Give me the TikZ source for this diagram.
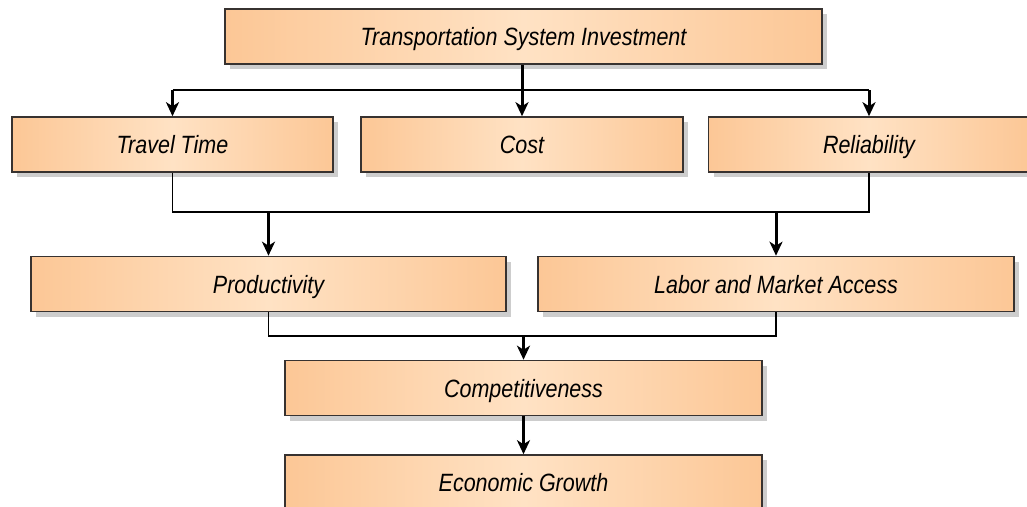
\documentclass[tikz,border=0pt]{standalone}
\usepackage{fontspec}
\newfontfamily\boxfont{Liberation Sans}[FakeStretch=0.86]
\usepackage{tikz}
\usetikzlibrary{arrows.meta,shadows}
\definecolor{boxedge}{RGB}{252,199,150}
\definecolor{boxmid}{RGB}{255,226,196}
\definecolor{boxline}{RGB}{55,50,48}
\definecolor{shadowgray}{RGB}{205,205,205}
\tikzset{
  factor/.style={draw=boxline, line width=1.6pt, left color=boxedge, right color=boxedge, middle color=boxmid,
    minimum height=55pt, inner sep=0pt, text height=18pt, text depth=0pt,
    font=\boxfont\itshape\fontsize{25}{28}\selectfont,
    drop shadow={shadow xshift=5pt, shadow yshift=-5pt, fill=shadowgray, opacity=1}},
  link/.style={black, line width=1.8pt},
  linkarrow/.style={black, line width=3pt, -{Stealth[length=14pt, width=13pt, inset=4pt]}}
}
\begin{document}
\begin{tikzpicture}[x=1pt,y=-1pt]
\useasboundingbox (0,0) rectangle (1027,506);
\node[factor, minimum width=597pt] (invest) at (523.5,36.5) {Transportation System Investment};
\node[factor, minimum width=321pt] (travel) at (172.5,144.5) {Travel Time};
\node[factor, minimum width=322pt] (cost) at (522,144.5) {Cost};
\node[factor, minimum width=321pt] (reliab) at (869,144.5) {Reliability};
\node[factor, minimum width=475pt] (product) at (268.5,284) {Productivity};
\node[factor, minimum width=476pt] (access) at (776,284) {Labor and Market Access};
\node[factor, minimum width=477pt] (compet) at (523.5,388) {Competitiveness};
\node[factor, minimum width=477pt] (growth) at (523.5,482.5) {Economic Growth};

\coordinate (split) at (523,90);
\coordinate (merge1) at (0,212);
\coordinate (merge2) at (0,336);

\draw[link] (travel.north |- split) -- (reliab.north |- split);
\draw[linkarrow] (invest.south -| cost.north) -- (cost.north);
\draw[linkarrow] (travel.north |- split) -- (travel.north);
\draw[linkarrow] (reliab.north |- split) -- (reliab.north);

\draw[link] (travel.south) -- (travel.south |- merge1) -- (reliab.south |- merge1) -- (reliab.south);
\draw[linkarrow] (product.north |- merge1) -- (product.north);
\draw[linkarrow] (access.north |- merge1) -- (access.north);

\draw[link] (product.south) -- (product.south |- merge2) -- (access.south |- merge2) -- (access.south);
\draw[linkarrow] (compet.north |- merge2) -- (compet.north);
\draw[linkarrow] (compet.south) -- (growth.north);
\end{tikzpicture}
\end{document}
